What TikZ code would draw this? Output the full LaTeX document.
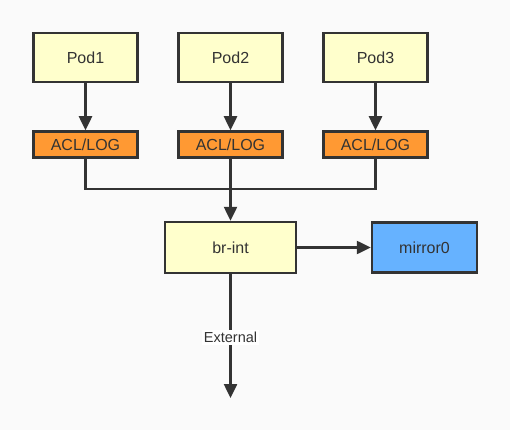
\documentclass[tikz,border=0pt]{standalone}
\usepackage{fontspec}
\setmainfont{Liberation Sans}
\usetikzlibrary{arrows.meta}

\definecolor{bgcol}{HTML}{FAFAFA}
\definecolor{linecol}{HTML}{333333}
\definecolor{podfill}{HTML}{FFFFCC}
\definecolor{aclfill}{HTML}{FF9933}
\definecolor{mirrfill}{HTML}{66B2FF}

\tikzset{
    box/.style={draw=linecol, line width=2.5pt, text=linecol, font=\fontsize{16}{19}\selectfont, inner sep=0pt},
    podbox/.style={box, fill=podfill, minimum width=104pt, minimum height=49pt},
    aclbox/.style={box, fill=aclfill, minimum width=104pt, minimum height=26pt},
    link/.style={draw=linecol, line width=2.5pt},
    arr/.style={link, -{Triangle[length=14pt,width=13pt]}}
}

\begin{document}
\begin{tikzpicture}[x=1pt,y=1pt]
    \fill[bgcol] (0,0) rectangle (510,-430);
    \useasboundingbox (0,0) rectangle (510,-430);

    % Pods and ACL/LOG
    \node[podbox] (pod1) at (85.5,-57.5) {Pod1};
    \node[podbox] (pod2) at (230.5,-57.5) {Pod2};
    \node[podbox] (pod3) at (375.5,-57.5) {Pod3};
    \node[aclbox] (acl1) at (85.5,-144.5) {ACL/LOG};
    \node[aclbox] (acl2) at (230.5,-144.5) {ACL/LOG};
    \node[aclbox] (acl3) at (375.5,-144.5) {ACL/LOG};

    % Bridge and mirror
    \node[box, fill=podfill, minimum width=131pt, minimum height=51pt] (brint) at (230.5,-247.5) {br-int};
    \node[box, fill=mirrfill, minimum width=105pt, minimum height=50pt] (mirror) at (424.5,-247.5) {mirror0};
    \node[fill=white, text=linecol, font=\fontsize{14.5}{17}\selectfont, inner sep=2pt] (ext) at (230.5,-337.5) {External};
    \coordinate (join) at (230.5,-189);
    \coordinate (out) at (230.5,-398);

    % Connections
    \foreach \i in {1,2,3}
        \draw[arr] (pod\i) -- (acl\i);
    \draw[link] (acl1.south) |- (join) -| (acl3.south);
    \draw[arr] (acl2) -- (brint);
    \draw[arr] (brint) -- (mirror);
    \draw[link] (brint) -- (ext);
    \draw[arr] (ext) -- (out);
\end{tikzpicture}
\end{document}
